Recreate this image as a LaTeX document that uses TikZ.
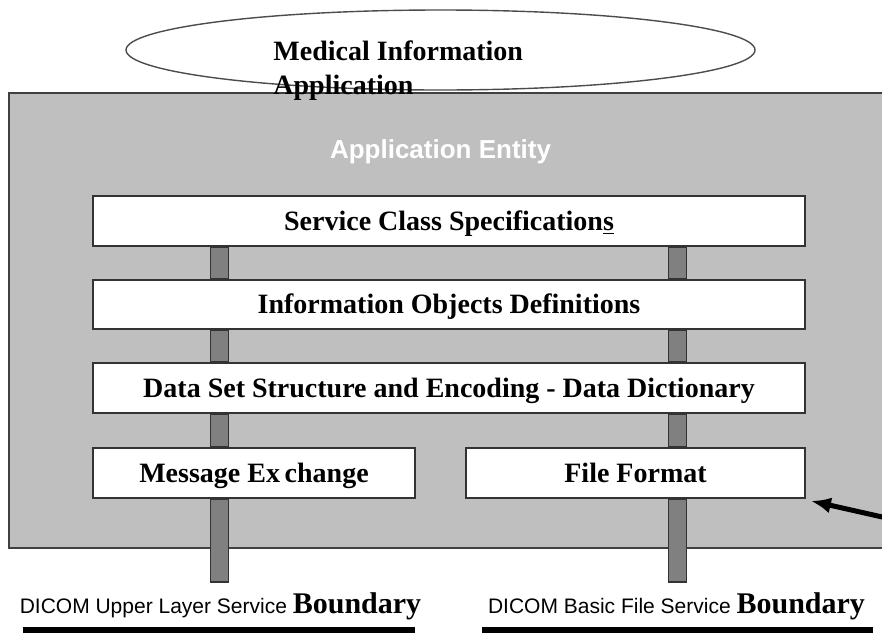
\documentclass[tikz,border=0pt]{standalone}
\usepackage{fontspec}
\setmainfont{Liberation Serif}
\setsansfont{Liberation Sans}
\usetikzlibrary{arrows.meta,shapes.geometric}

\tikzset{
    layerbox/.style={draw=black!80, line width=0.9pt, fill=white, inner sep=0pt,
        text height=9.3pt, text depth=0pt,
        font=\bfseries\fontsize{14}{17}\selectfont},
    busbar/.style={draw=black!80, line width=0.8pt, fill=black!50},
    svcline/.style={anchor=base, inner sep=0pt},
}

\begin{document}
\begin{tikzpicture}[x=0.5pt, y=-0.5pt]
    \useasboundingbox (0,0) rectangle (882,632);
    \clip (0,0) rectangle (882,632);
    \coordinate (barL) at (219.5,0);
    \coordinate (barR) at (677.5,0);
    \coordinate (endL) at (219.5,582);
    \coordinate (endR) at (677.5,582);
    \coordinate (tail) at (900,521);
    % application entity frame, runs off to the right
    \draw[draw=black!75, line width=1pt, fill=black!25] (9,93) rectangle (910,548);
    \node[ellipse, draw=black!70, line width=0.7pt, minimum width=314.5pt, minimum height=40pt,
        inner sep=0pt] (mia) at (440.5,50) {};
    % base is the last line here
    \node[anchor=base west, inner sep=0pt, align=left,
        font=\bfseries\fontsize{14}{17}\selectfont] (miatext) at (273,94)
        {Medical Information\\Application};
    \node[font=\sffamily\bfseries\fontsize{13}{15}\selectfont, text=white] (ae) at (440.5,152)
        {Application Entity};
    % the layers
    \node[layerbox, minimum width=356pt, minimum height=25pt] (scs) at (449,221)
        {Service Class Specification\underline{s}};
    \node[layerbox, minimum width=356pt, minimum height=24.5pt] (iod) at (449,304.5)
        {Information Objects Definitions};
    \node[layerbox, minimum width=356pt, minimum height=25pt] (dss) at (449,388)
        {Data Set Structure and Encoding - Data Dictionary};
    \node[layerbox, minimum width=161pt, minimum height=25pt] (msg) at (254,473)
        {Message Ex\,change};
    \node[layerbox, minimum width=169.5pt, minimum height=25pt] (ff) at (635.5,473)
        {File Format};
    % grey bars between the layers
    \draw[busbar] ([xshift=-4.5pt]scs.south -| barL) rectangle ([xshift=4.5pt]iod.north -| barL);
    \draw[busbar] ([xshift=-4.5pt]iod.south -| barL) rectangle ([xshift=4.5pt]dss.north -| barL);
    \draw[busbar] ([xshift=-4.5pt]dss.south -| barL) rectangle ([xshift=4.5pt]msg.north -| barL);
    \draw[busbar] ([xshift=-4.5pt]msg.south -| barL) rectangle ([xshift=4.5pt]endL);
    \draw[busbar] ([xshift=-4.5pt]scs.south -| barR) rectangle ([xshift=4.5pt]iod.north -| barR);
    \draw[busbar] ([xshift=-4.5pt]iod.south -| barR) rectangle ([xshift=4.5pt]dss.north -| barR);
    \draw[busbar] ([xshift=-4.5pt]dss.south -| barR) rectangle ([xshift=4.5pt]ff.north -| barR);
    \draw[busbar] ([xshift=-4.5pt]ff.south -| barR) rectangle ([xshift=4.5pt]endR);
    % boundaries
    \node[svcline] (ulb) at (220.5,613)
        {{\sffamily\fontsize{10.5}{12}\selectfont DICOM Upper Layer Service }{\bfseries\fontsize{15}{17}\selectfont Boundary}};
    \node[svcline] (bfb) at (676.5,613)
        {{\sffamily\fontsize{10.5}{12}\selectfont DICOM Basic File Service }{\bfseries\fontsize{15}{17}\selectfont Boundary}};
    \fill (23,627) rectangle (415,640);
    \fill (482,627) rectangle (873,640);
    \draw[-{Latex[length=10pt,width=8pt]}, line width=2.5pt] (tail) -- ([xshift=2.5pt,yshift=-1pt]ff.south east);
\end{tikzpicture}
\end{document}
